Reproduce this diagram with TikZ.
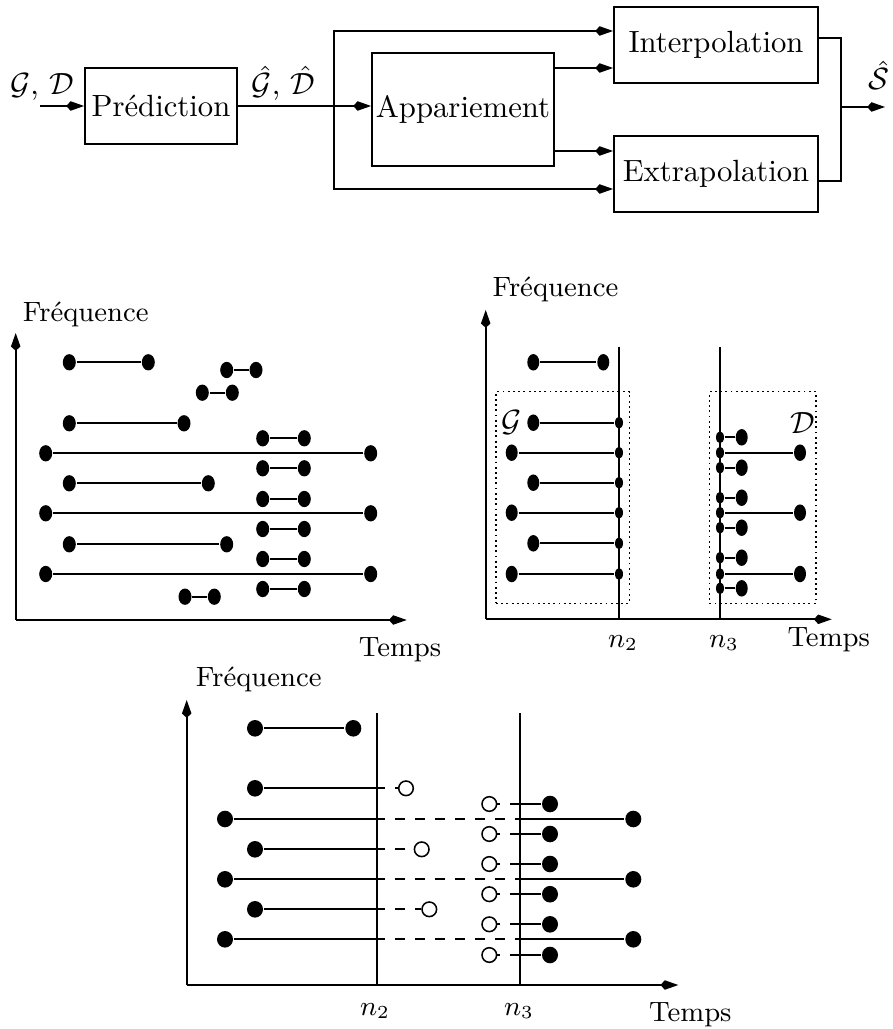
\documentclass[tikz,border=0pt]{standalone}
\usetikzlibrary{arrows.meta,shapes.geometric}
\newlength{\pxu}\setlength{\pxu}{0.3257pt}
\tikzset{
  tip/.style={-{Kite[length=5.8pt,width=3.1pt,inset=1.4pt]}},
  blk/.style={draw, line width=0.6pt, inner sep=0pt, rectangle},
  dotbox/.style={draw, rectangle, inner sep=0pt, line width=0.5pt, dash pattern=on 0.6pt off 1.1pt},
  dA/.style={ellipse, fill=black, draw=none, inner sep=0pt, minimum width=13\pxu, minimum height=16.3\pxu},
  dB/.style={ellipse, fill=black, draw=none, inner sep=0pt, minimum width=12\pxu, minimum height=16.5\pxu},
  sB/.style={ellipse, fill=black, draw=none, inner sep=0pt, minimum width=8\pxu, minimum height=12\pxu},
  dC/.style={ellipse, fill=black, draw=none, inner sep=0pt, minimum width=16\pxu, minimum height=16.6\pxu},
  oC/.style={circle, draw, line width=0.5pt, fill=white, inner sep=0pt, minimum size=14.6\pxu},
  lab/.style={font=\fontsize{9.1}{11}\selectfont, inner sep=0pt},
  dsh/.style={dash pattern=on 3.26pt off 3.26pt, dash phase=3.26pt},
  tick/.style={dash pattern=on 0.8pt off 10pt},
}
\begin{document}
\begin{tikzpicture}[x=0.3257pt, y=-0.3257pt, line width=0.6pt]
\useasboundingbox (0,0) rectangle (893,1029);

% ---------------- block diagram ----------------
\node[blk, minimum width=152\pxu, minimum height=76\pxu] (pred) at (161,106) {Pr\'ediction};
\node[blk, minimum width=182\pxu, minimum height=113\pxu] (app) at (463,109.5) {Appariement};
\node[blk, minimum width=204\pxu, minimum height=76\pxu] (int) at (716,45) {Interpolation};
\node[blk, minimum width=204\pxu, minimum height=76\pxu] (ext) at (716,174) {Extrapolation};

\coordinate (in) at (40,106);
\coordinate (j) at (334,106);
\coordinate (hA) at (0,31);
\coordinate (hB) at (0,68);
\coordinate (hC) at (0,151);
\coordinate (hD) at (0,189);
\coordinate (hE) at (0,38);
\coordinate (hF) at (0,181);
\coordinate (k) at (841,107);
\coordinate (out) at (885,107);

\draw[tip] (in) -- (pred.west);
\draw[tip] (pred.east) -- (app.west |- pred.east);
\draw[tip] (j) |- (int.west |- hA);
\draw[tip] (app.east |- hB) -- (int.west |- hB);
\draw[tip] (app.east |- hC) -- (ext.west |- hC);
\draw[tip] (j) |- (ext.west |- hD);
\draw (int.east |- hE) -| (k) |- (ext.east |- hF);
\draw[tip] (k) -- (out);

\node[anchor=base, inner sep=0pt] (lgd) at (42,95) {$\mathcal{G}$, $\mathcal{D}$};
\node[anchor=base, inner sep=0pt] (lhat) at (283.5,95) {$\hat{\mathcal{G}}$, $\hat{\mathcal{D}}$};
\node[anchor=base, inner sep=0pt] (ls) at (879,90) {$\hat{\mathcal{S}}$};

% ---------------- panel 1 ----------------
\coordinate (o1) at (15.7,620);
\coordinate (ya1) at (15.7,333);
\coordinate (xa1) at (406.7,620);
\draw[tip] (o1) -- (ya1);
\draw[tip] (o1) -- (xa1);
\node[lab, anchor=base west] (f1) at (22,321.3) {Fr\'equence};
\node[lab, anchor=base west] (t1) at (358,656) {Temps};
\foreach \nm/\a/\b/\y in {1/69.3/148.3/362.3, 2/226.7/256/370, 3/202.3/232.3/392.7,
  4/69.3/184/423.3, 5/262.7/304.3/438.3, 6/45.7/370.7/453.3, 7/262.7/304.3/468.3,
  8/69.3/208.3/483.3, 9/262.7/304.3/499, 10/45.7/370.7/513.3, 11/262.7/304.3/529,
  12/69.3/226.7/544.3, 13/262.7/304.3/559, 14/45.7/370.7/574, 15/262.7/304.3/589,
  16/185/214.3/596.7}{
  \node[dA] (pa\nm) at (\a,\y) {};
  \node[dA] (pb\nm) at (\b,\y) {};
  \draw (pa\nm) -- (pb\nm);
}

% ---------------- panel 2 ----------------
\coordinate (o2) at (485.7,619.3);
\coordinate (ya2) at (485.7,310);
\coordinate (xa2) at (831.7,619.3);
\draw[tip] (o2) -- (ya2);
\draw[tip] (o2) -- (xa2);
\coordinate (qn2t) at (619,346.7);
\coordinate (qn2b) at (619,619.3);
\coordinate (qn3t) at (720,346.7);
\coordinate (qn3b) at (720,619.3);
\draw (qn2t) -- (qn2b);
\draw (qn3t) -- (qn3b);
\node[dotbox, minimum width=133.3\pxu, minimum height=211.6\pxu] (gbox) at (562.65,497.5) {};
\node[dotbox, minimum width=106.7\pxu, minimum height=211.6\pxu] (dbox) at (762.65,497.5) {};
\node[inner sep=0pt] (lg) at (511.7,423) {$\mathcal{G}$};
\node[inner sep=0pt] (ld) at (802.3,423) {$\mathcal{D}$};
\node[lab, anchor=base west] (f2) at (491.7,296.3) {Fr\'equence};
\node[lab, anchor=base west] (t2) at (786.7,646) {Temps};
\node[lab] (m2) at (623,643) {$n_2$};
\node[lab] (m3) at (724,643) {$n_3$};

\node[dB] (qa0) at (533.3,362.3) {};
\node[dB] (qb0) at (603.3,362.3) {};
\draw (qa0) -- (qb0);
\foreach \nm/\a/\y in {1/533.3/422.7, 2/511.7/452.7, 3/533.3/482.7, 4/511.7/512.7,
  5/533.3/543.3, 6/511.7/574}{
  \node[dB] (ga\nm) at (\a,\y) {};
  \node[sB] (gb\nm) at (619,\y) {};
  \draw (ga\nm) -- (gb\nm);
}
\foreach \nm/\b/\y in {1/741.7/437.3, 2/800/452.7, 3/741.7/467.7, 4/741.7/497.7,
  5/800/512.7, 6/741.7/527.7, 7/741.7/557.7, 8/800/574, 9/741.7/588.3}{
  \node[sB] (da\nm) at (720,\y) {};
  \node[dB] (db\nm) at (\b,\y) {};
  \draw (da\nm) -- (db\nm);
}

% ---------------- panel 3 ----------------
\coordinate (o3) at (186.7,985);
\coordinate (ya3) at (186.7,700);
\coordinate (xa3) at (678.3,985);
\draw[tip] (o3) -- (ya3);
\draw[tip] (o3) -- (xa3);
\coordinate (rn2t) at (376.7,713.3);
\coordinate (rn2b) at (376.7,985);
\coordinate (rn3t) at (520,713.3);
\coordinate (rn3b) at (520,985);
\draw (rn2t) -- (rn2b);
\draw (rn3t) -- (rn3b);
\node[lab, anchor=base west] (f3) at (195,686.3) {Fr\'equence};
\node[lab, anchor=base west] (t3) at (648.3,1021) {Temps};
\node[lab] (r2) at (375,1011) {$n_2$};
\node[lab] (r3) at (519,1011) {$n_3$};

\node[dC] (ra0) at (255,728.3) {};
\node[dC] (rb0) at (353.3,728.3) {};
\draw (ra0) -- (rb0);
% rows ending in an open circle after n2
\foreach \nm/\c/\y in {1/406/788.3, 2/421.7/849.3, 3/429.3/909.3}{
  \node[dC] (ma\nm) at (255,\y) {};
  \coordinate (mc\nm) at (385,\y);
  \node[oC] (mo\nm) at (\c,\y) {};
  \draw (ma\nm) -- (mc\nm);
  \draw[dsh] (mc\nm) -- (mo\nm);
}
% long rows crossing the gap
\foreach \nm/\y in {1/819, 2/879.3, 3/939.3}{
  \node[dC] (la\nm) at (225,\y) {};
  \coordinate (lc\nm) at (385,\y);
  \coordinate (le\nm) at (520,\y);
  \node[dC] (lb\nm) at (633.3,\y) {};
  \draw (la\nm) -- (lc\nm);
  \draw[dsh] (lc\nm) -- (le\nm);
  \draw (le\nm) -- (lb\nm);
}
% short rows starting from an open circle before n3
\foreach \nm/\y in {1/804, 2/834, 3/864, 4/894.2, 5/924.3, 6/955}{
  \node[oC] (so\nm) at (489.3,\y) {};
  \coordinate (sc\nm) at (510,\y);
  \node[dC] (sb\nm) at (550,\y) {};
  \draw[tick] (so\nm) -- (sc\nm);
  \draw (sc\nm) -- (sb\nm);
}
\end{tikzpicture}
\end{document}
